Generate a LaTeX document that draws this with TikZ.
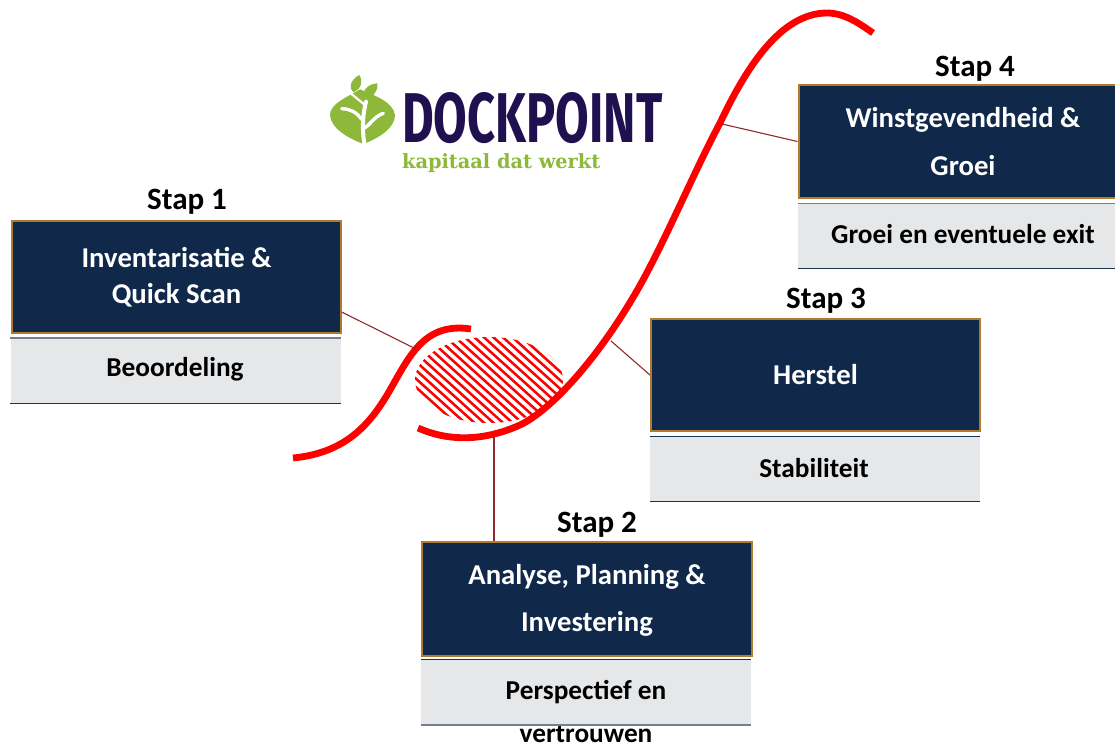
\documentclass[tikz,border=0pt]{standalone}
\usepackage{graphicx}
\usepackage{fontspec}
\setmainfont{Carlito}
\newfontfamily\logofont{Fira Sans}
\newfontfamily\tagfont{DejaVu Serif}
\definecolor{navy}{HTML}{10294A}
\definecolor{bronze}{HTML}{B27A2E}
\definecolor{palegrey}{HTML}{E6E7E9}
\definecolor{linedark}{HTML}{1B3358}
\definecolor{linegrey}{HTML}{74808F}
\definecolor{conn}{HTML}{8E2A2E}
\definecolor{logoblue}{HTML}{1F1150}
\definecolor{logogreen}{HTML}{8DB83A}
\tikzset{
  stepbox/.style={draw=bronze,line width=2pt,fill=navy,text=white,font=\bfseries\fontsize{28.7}{36}\selectfont,align=center,inner sep=0pt,minimum height=#1},
  stepbox/.default=112pt,
  subbox/.style={fill=palegrey,font=\bfseries\fontsize{27.3}{36}\selectfont,align=center,inner sep=0pt,minimum height=65pt,minimum width=330pt},
  steplabel/.style={font=\bfseries\fontsize{31}{34}\selectfont,inner sep=0pt},
  connline/.style={draw=conn,line width=1.1pt},
  redcurve/.style={draw=red,line width=6.8pt},
  rulednavy/.style={draw=linedark,line width=1.2pt},
  ruledgrey/.style={draw=linegrey,line width=1.5pt},
  logotxt/.style={inner sep=0pt,anchor=south west}
}
\begin{document}
\begin{tikzpicture}[x=1pt,y=-1pt]
\clip (0,0) rectangle (1115,743);
\fill[white] (0,0) rectangle (1115,743);

% logo
\begin{scope}[shift={(320,60)},x=0.3333pt,y=-0.3333pt]
  \fill[logogreen] (120,88) .. controls (85,110) and (30,130) .. (30,165)
     .. controls (32,205) and (85,235) .. (130,252)
     .. controls (175,235) and (225,205) .. (225,165)
     .. controls (220,125) and (160,105) .. (120,88) -- cycle;
  \fill[logogreen] (118,45) .. controls (90,60) and (85,85) .. (100,97)
     .. controls (125,85) and (130,65) .. (118,45) -- cycle;
  \fill[logogreen] (172,70) .. controls (140,72) and (125,95) .. (130,118)
     .. controls (160,112) and (175,95) .. (172,70) -- cycle;
  \draw[white,line width=4pt,line cap=round] (135,262) .. controls (125,210) and (128,165) .. (138,125);
  \draw[white,line width=3.4pt,line cap=round] (125,178) .. controls (108,155) and (90,147) .. (65,146);
  \draw[white,line width=3.4pt,line cap=round] (130,205) .. controls (150,198) and (160,170) .. (190,160);
  \draw[white,line width=2.2pt,line cap=round] (92,100) -- (135,135);
\end{scope}
\node[logotxt,text=logoblue] (logoname) at (402,144) {\resizebox{260pt}{50pt}{\logofont\bfseries DOCKPOINT}};
\node[logotxt,text=logogreen] (logotag) at (402,173) {\resizebox*{198pt}{19pt}{\tagfont\bfseries kapitaal dat werkt}};

% boxes
\node[stepbox,minimum width=329pt] (box1) at (176.5,277) {Inventarisatie \&\\Quick Scan};
\node[subbox] (sub1) at (175.5,370.5) {};
\node[font=\bfseries\fontsize{27.3}{36}\selectfont,inner sep=0pt] (sub1t) at (175,369.5) {Beoordeling};
\node[steplabel] (lab1) at (187,202) {Stap 1};

\node[stepbox=114pt,minimum width=330pt,font=\bfseries\fontsize{28.7}{47}\selectfont] (box2) at (587,599) {};
\node[font=\bfseries\fontsize{28.7}{47}\selectfont,text=white,align=center,inner sep=0pt] (box2t) at (587,600) {Analyse, Planning \&\\Investering};
\node[subbox] (sub2) at (586,692.5) {};
\node[font=\bfseries\fontsize{27.3}{43}\selectfont,align=center,inner sep=0pt] (sub2t) at (586,711) {Perspectief en\\vertrouwen};
\node[steplabel] (lab2) at (597,525) {Stap 2};

\node[stepbox,minimum width=329pt] (box3) at (815.5,375) {Herstel};
\node[subbox] (sub3) at (815,469) {};
\node[font=\bfseries\fontsize{27.3}{36}\selectfont,inner sep=0pt] (sub3t) at (814,468) {Stabiliteit};
\node[steplabel] (lab3) at (826,301) {Stap 3};

\node[stepbox=113pt,minimum width=340pt] (box4) at (968.5,141.5) {};
\node[font=\bfseries\fontsize{28.7}{48}\selectfont,text=white,align=center,inner sep=0pt] (box4t) at (963,142) {Winstgevendheid \&\\Groei};
\node[subbox,minimum width=340pt] (sub4) at (968,236) {};
\node[font=\bfseries\fontsize{27.3}{36}\selectfont,inner sep=0pt] (sub4t) at (963,234) {Groei en eventuele exit};
\node[steplabel] (lab4) at (975,69) {Stap 4};

% rules on grey boxes
\draw[ruledgrey] (sub1.north west) -- (sub1.north east);
\draw[rulednavy] (sub1.south west) -- (sub1.south east);
\draw[rulednavy] (sub2.north west) -- (sub2.north east);
\draw[ruledgrey] (sub2.south west) -- (sub2.south east);
\draw[rulednavy] (sub3.north west) -- (sub3.north east);
\draw[rulednavy] (sub3.south west) -- (sub3.south east);
\draw[ruledgrey] (sub4.north west) -- (sub4.north east);
\draw[rulednavy] (sub4.south west) -- (sub4.south east);

% hatching
\begin{scope}
  \clip (489,380) ellipse [x radius=74,y radius=43];
  \foreach \k in {0,...,28}{
    \draw[red,line width=2.5pt] ({300+9.5*\k},300) -- ({500+9.5*\k},480);
  }
\end{scope}

% curves
\draw[redcurve] (293,458) .. controls (345,453) and (370,425) .. (390,390)
   .. controls (410,355) and (425,322) .. (471,329);
\draw[redcurve] (418,428) .. controls (445,440) and (480,443) .. (520,425)
   .. controls (550,411) and (600,358) .. (643,280)
   .. controls (670,230) and (695,170) .. (720,123)
   .. controls (745,70) and (780,13) .. (827,13)
   .. controls (845,13) and (860,24) .. (873,33);

% connectors
\coordinate (hit1) at (416,349);
\coordinate (hit2) at (494,437);
\coordinate (hit3) at (611,341);
\coordinate (hit4) at (722,124);
\draw[connline] (box1.-12.9) -- (hit1);
\draw[connline] (hit2) -- (hit2 |- box2.north);
\draw[connline] (box3.west) -- (hit3);
\draw[connline] (box4.west) -- (hit4);
\end{tikzpicture}
\end{document}
